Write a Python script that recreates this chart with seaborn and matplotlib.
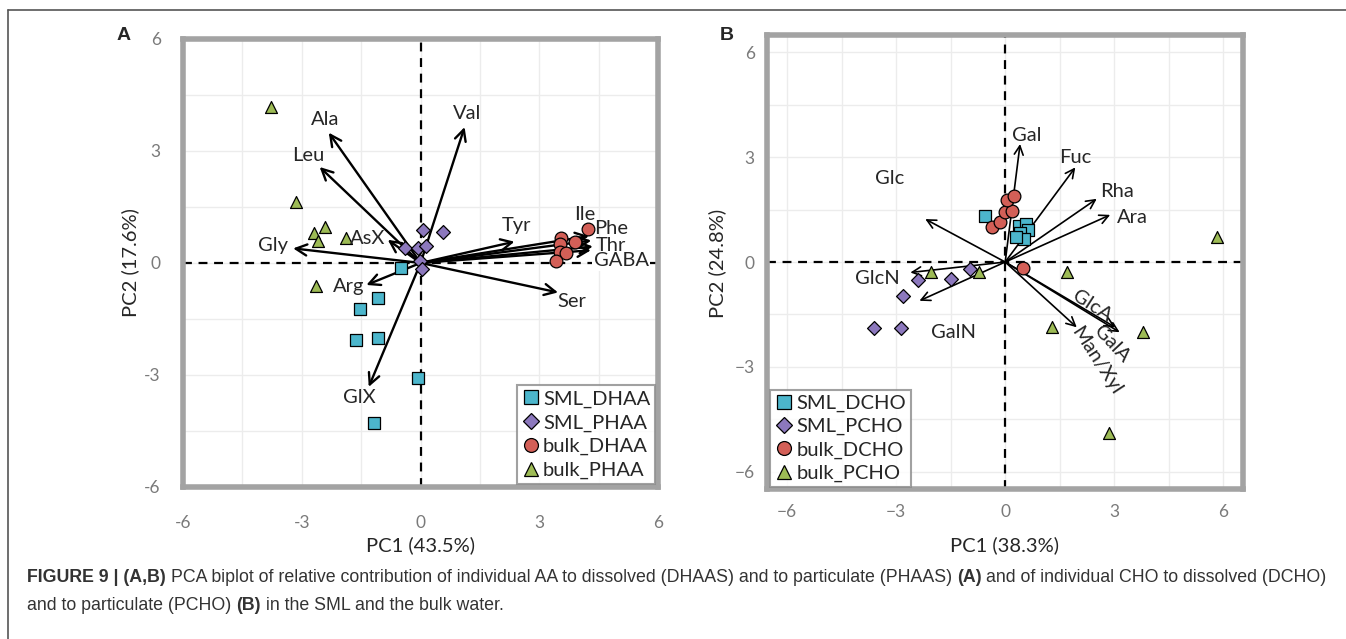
import pandas as pd
import matplotlib.pyplot as plt
import seaborn as sns
from matplotlib.lines import Line2D

# ---- Panel A: amino acids ----
a_groups = ['SML_DHAA', 'SML_PHAA', 'bulk_DHAA', 'bulk_PHAA']
a_sml_d_x = [-1.08, -1.52, -1.62, -1.08, -1.19, -0.07, -0.49]
a_sml_d_y = [-0.95, -1.24, -2.06, -2.02, -4.30, -3.09, -0.14]
a_sml_p_x = [0.06, 0.56, -0.40, -0.07, 0.14, -0.01, 0.03]
a_sml_p_y = [0.87, 0.84, 0.41, 0.41, 0.46, 0.06, -0.17]
a_bulk_d_x = [4.23, 3.55, 3.89, 3.51, 3.51, 3.68, 3.43]
a_bulk_d_y = [0.90, 0.66, 0.57, 0.51, 0.30, 0.26, 0.04]
a_bulk_p_x = [-3.77, -3.16, -2.70, -2.41, -2.59, -1.88, -2.63]
a_bulk_p_y = [4.19, 1.64, 0.81, 0.96, 0.60, 0.66, -0.62]

a_vars = ['Ala', 'Leu', 'Gly', 'AsX', 'Arg', 'GlX', 'Val', 'Tyr', 'Ile', 'Phe', 'Thr', 'GABA', 'Ser']
a_load_x = [-2.32, -2.55, -3.22, -0.83, -1.37, -1.31, 1.11, 2.37, 4.25, 4.31, 4.35, 4.30, 3.47]
a_load_y = [3.49, 2.57, 0.39, 0.62, -0.59, -3.32, 3.64, 0.57, 0.72, 0.60, 0.44, 0.34, -0.79]
a_lab_x = [-2.40, -2.85, -3.73, -1.33, -1.81, -1.54, 1.17, 2.42, 4.14, 4.81, 4.81, 5.07, 3.81]
a_lab_y = [3.83, 2.87, 0.48, 0.66, -0.62, -3.60, 4.01, 0.99, 1.30, 0.93, 0.48, 0.06, -1.04]

# ---- Panel B: carbohydrates ----
b_groups = ['SML_DCHO', 'SML_PCHO', 'bulk_DCHO', 'bulk_PCHO']
b_sml_d_x = [-0.55, 0.37, 0.58, 0.62, 0.40, 0.52, 0.30]
b_sml_d_y = [1.33, 1.04, 1.08, 0.92, 0.84, 0.65, 0.72]
b_sml_p_x = [-0.96, -1.50, -2.40, -2.80, -3.60, -2.86]
b_sml_p_y = [-0.20, -0.49, -0.51, -0.98, -1.90, -1.90]
b_bulk_d_x = [-0.37, -0.14, 0.0, 0.18, 0.06, 0.25, 0.49]
b_bulk_d_y = [0.99, 1.16, 1.43, 1.47, 1.77, 1.90, -0.18]
b_bulk_p_x = [-2.05, -0.71, 5.84, 1.70, 1.28, 3.79, 2.87]
b_bulk_p_y = [-0.30, -0.30, 0.71, -0.30, -1.87, -2.01, -4.90]

b_vars = ['Gal', 'Fuc', 'Rha', 'Ara', 'Glc', 'GlcN', 'GalN', 'GlcA', 'GalA', 'Man/Xyl']
b_load_x = [0.41, 1.93, 2.52, 2.89, -2.20, -2.61, -2.36, 3.03, 3.15, 1.97]
b_load_y = [3.38, 2.71, 1.81, 1.35, 1.23, -0.30, -1.11, -1.87, -2.01, -1.87]
b_lab_x = [0.58, 1.93, 3.07, 3.49, -3.18, -3.53, -1.42, 2.39, 2.94, 2.52]
b_lab_y = [3.62, 3.00, 2.02, 1.28, 2.40, -0.47, -2.02, -1.25, -2.35, -2.83]
b_lab_rot = [0, 0, 0, 0, 0, 0, 0, -33, -47, -57]

ticks = [-6, -3, 0, 3, 6]
a_ticklabels = ['-6', '-3', '0', '3', '6']
b_ticklabels = ['\u22126', '\u22123', '0', '3', '6']
minor_ticks = [-4.5, -1.5, 1.5, 4.5]

colors = ['#4cb6cc', '#8c78bd', '#d35f57', '#9dbb55']
markers = ['s', 'D', 'o', '^']
sizes = [66, 50, 84, 74]


def make_df(groups, xs, ys):
    frames = []
    for g, x, y in zip(groups, xs, ys):
        frames.append(pd.DataFrame({'x': x, 'y': y, 'group': g}))
    return pd.concat(frames, ignore_index=True)


df_a = make_df(a_groups, [a_sml_d_x, a_sml_p_x, a_bulk_d_x, a_bulk_p_x],
               [a_sml_d_y, a_sml_p_y, a_bulk_d_y, a_bulk_p_y])
df_b = make_df(b_groups, [b_sml_d_x, b_sml_p_x, b_bulk_d_x, b_bulk_p_x],
               [b_sml_d_y, b_sml_p_y, b_bulk_d_y, b_bulk_p_y])

sns.set_style('white')
plt.rcParams['font.family'] = ['Lato', 'DejaVu Sans']

fig = plt.figure(figsize=(13.46, 6.39), dpi=100)
ax_a = fig.add_axes([0.136, 0.238, 0.353, 0.701])
ax_b = fig.add_axes([0.570, 0.2347, 0.3536, 0.7105])

tick_gray = '#7a7a7a'
frame_gray = '#a3a3a3'


def style_axes(ax, lim, ticklabels, xpad, ypad):
    ax.set_xlim(lim)
    ax.set_ylim(lim)
    ax.set_xticks(ticks)
    ax.set_yticks(ticks)
    ax.set_xticks(minor_ticks, minor=True)
    ax.set_yticks(minor_ticks, minor=True)
    ax.set_xticklabels(ticklabels)
    ax.set_yticklabels(ticklabels)
    ax.grid(True, which='both', color='#ececec', lw=1.0, zorder=0)
    ax.set_axisbelow(True)
    for s in ax.spines.values():
        s.set_visible(True)
        s.set_color(frame_gray)
        s.set_linewidth(4)
    ax.tick_params(axis='both', which='major', direction='out', length=6, width=1.6,
                   color=tick_gray, labelcolor=tick_gray, labelsize=12.5)
    ax.tick_params(axis='x', which='major', pad=xpad)
    ax.tick_params(axis='y', which='major', pad=ypad)
    ax.tick_params(which='minor', length=0)
    ax.axhline(0, color='black', ls=(0, (4, 3)), lw=1.6, zorder=1)
    ax.axvline(0, color='black', ls=(0, (4, 3)), lw=1.6, zorder=1)


style_axes(ax_a, (-6, 6), a_ticklabels, 14, 10)
style_axes(ax_b, (-6.55, 6.55), b_ticklabels, 5, 3)
ax_b.set_ylim(-6.5, 6.5)

# arrows first so markers sit on top
for vx, vy, lx, ly, name in zip(a_load_x, a_load_y, a_lab_x, a_lab_y, a_vars):
    ax_a.annotate('', xy=(vx, vy), xytext=(0, 0),
                  arrowprops=dict(arrowstyle='->', lw=1.7, color='black',
                                  mutation_scale=20, shrinkA=0, shrinkB=0), zorder=2)
    t = ax_a.text(lx, ly, name, fontsize=14.5, ha='center', va='center', zorder=5)
    if name == 'GABA':
        # the dashed zero line stops behind this label
        t.set_bbox(dict(facecolor='white', edgecolor='none', pad=1))

for vx, vy, lx, ly, rot, name in zip(b_load_x, b_load_y, b_lab_x, b_lab_y, b_lab_rot, b_vars):
    ax_b.annotate('', xy=(vx, vy), xytext=(0, 0),
                  arrowprops=dict(arrowstyle='->', lw=1.2, color='black',
                                  mutation_scale=16, shrinkA=0, shrinkB=0), zorder=2)
    ax_b.text(lx, ly, name, fontsize=14.5, ha='center', va='center', rotation=rot,
              rotation_mode='anchor', zorder=5)

for ax, df, groups in [(ax_a, df_a, a_groups), (ax_b, df_b, b_groups)]:
    for g, c, m, s in zip(groups, colors, markers, sizes):
        sub = df[df['group'] == g]
        sns.scatterplot(data=sub, x='x', y='y', ax=ax, color=c, marker=m, s=s,
                        edgecolor='black', linewidth=0.9, zorder=4, legend=False)
    ax.set_xlabel('')
    ax.set_ylabel('')
    handles = [Line2D([], [], ls='', marker=m, markersize=10 if m != 'D' else 8,
                      markerfacecolor=c, markeredgecolor='black', markeredgewidth=0.9)
               for c, m in zip(colors, markers)]
    if ax is ax_a:
        leg = ax.legend(handles, groups, loc='lower right', bbox_to_anchor=(0.994, 0.006),
                        fontsize=14.5, frameon=True, fancybox=False, borderpad=0.25,
                        handletextpad=0.15, handlelength=0.9, labelspacing=0.32,
                        borderaxespad=0)
    else:
        leg = ax.legend(handles, groups, loc='lower left', bbox_to_anchor=(0.006, 0.004),
                        fontsize=14.5, frameon=True, fancybox=False, borderpad=0.25,
                        handletextpad=0.15, handlelength=0.9, labelspacing=0.3,
                        borderaxespad=0)
    leg.get_frame().set_edgecolor('#8a8a8a')
    leg.get_frame().set_linewidth(1.5)
    leg.set_zorder(6)

fig.text(421 / 1346, 1 - 545 / 639, 'PC1 (43.5%)', fontsize=14.5, ha='center', va='center')
fig.text(130 / 1346, 1 - 263 / 639, 'PC2 (17.6%)', fontsize=14.5, ha='center', va='center',
         rotation=90)
fig.text(1005 / 1346, 1 - 545 / 639, 'PC1 (38.3%)', fontsize=14.5, ha='center', va='center')
fig.text(717 / 1346, 1 - 263 / 639, 'PC2 (24.8%)', fontsize=14.5, ha='center', va='center',
         rotation=90)

fig.text(124 / 1346, 1 - 35 / 639, 'A', fontsize=14, fontweight='bold',
         family='Liberation Sans', ha='center', va='center')
fig.text(727 / 1346, 1 - 35 / 639, 'B', fontsize=14, fontweight='bold',
         family='Liberation Sans', ha='center', va='center')

# outer frame (left and top)
fig.add_artist(Line2D([8 / 1346, 8 / 1346], [0, 1 - 10 / 639], color='#555555', lw=1.2))
fig.add_artist(Line2D([8 / 1346, 1], [1 - 10 / 639, 1 - 10 / 639], color='#555555', lw=1.2))

# caption with bold parts
caption_lines = [
    [('FIGURE 9 | (A,B)', 'bold'),
     ('PCA biplot of relative contribution of individual AA to dissolved (DHAAS) and to particulate (PHAAS)', 'normal'),
     ('(A)', 'bold'),
     ('and of individual CHO to dissolved (DCHO)', 'normal')],
    [('and to particulate (PCHO)', 'normal'),
     ('(B)', 'bold'),
     ('in the SML and the bulk water.', 'normal')],
]
caption_y = [1 - 577 / 639, 1 - 606 / 639]
cap_size = 12.8
renderer = fig.canvas.get_renderer()
probe1 = fig.text(0, 0, 'xx', fontsize=cap_size, family='Liberation Sans')
probe2 = fig.text(0, 0, 'x x', fontsize=cap_size, family='Liberation Sans')
space_w = (probe2.get_window_extent(renderer).width
           - probe1.get_window_extent(renderer).width) / fig.bbox.width
probe1.remove()
probe2.remove()
for segs, yy in zip(caption_lines, caption_y):
    x = 27 / 1346
    for txt, weight in segs:
        t = fig.text(x, yy, txt, fontsize=cap_size, fontweight=weight, family='Liberation Sans',
                     color='#333333', ha='left', va='center')
        x += t.get_window_extent(renderer).width / fig.bbox.width + space_w

fig.savefig('out.png', dpi=100)
